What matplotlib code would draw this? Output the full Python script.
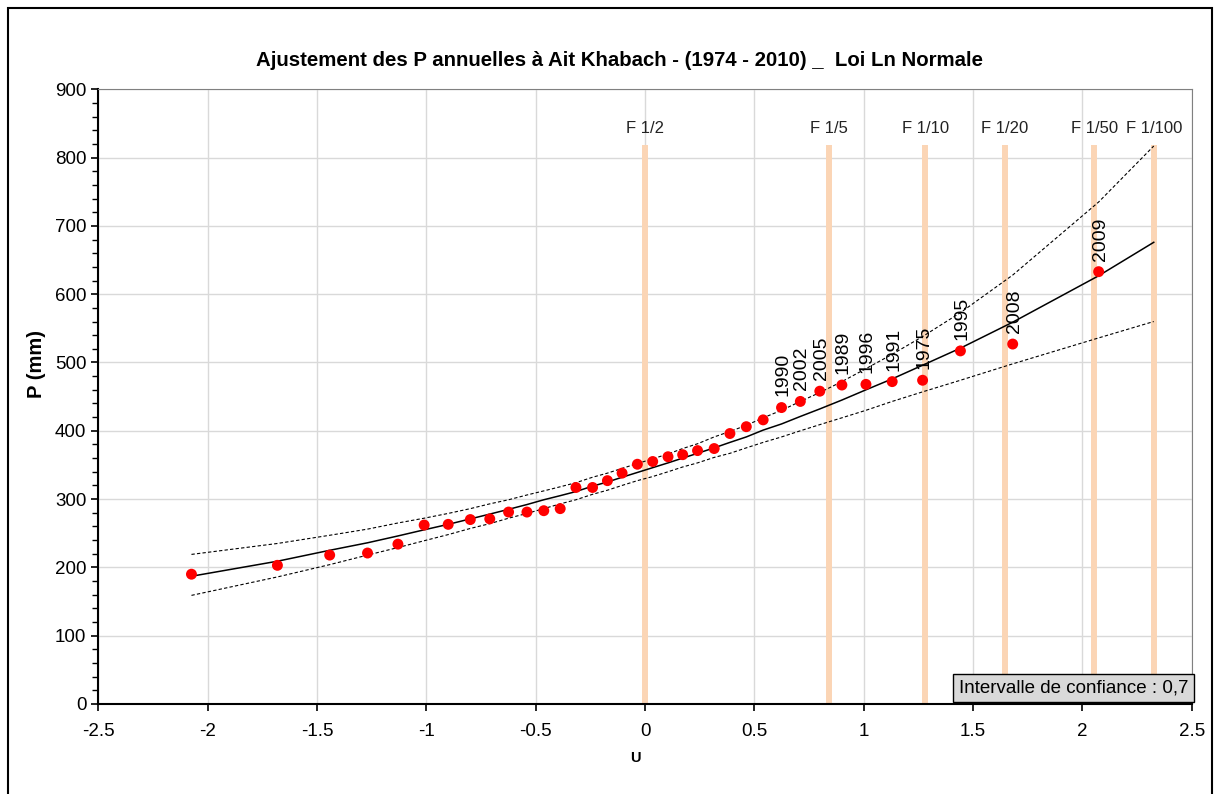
import matplotlib.pyplot as plt
from matplotlib.patches import Rectangle
from matplotlib.ticker import MultipleLocator

plt.rcParams["font.family"] = ["Liberation Sans", "DejaVu Sans"]

# variable réduite de Gauss et pluies annuelles classées
u_obs = [-2.074, -1.681, -1.442, -1.269, -1.130, -1.010, -0.900, -0.799, -0.710,
         -0.624, -0.540, -0.463, -0.388, -0.316, -0.240, -0.172, -0.105, -0.035,
         0.035, 0.105, 0.172, 0.240, 0.316, 0.388, 0.463, 0.540, 0.624,
         0.710, 0.799, 0.900, 1.010, 1.130, 1.269, 1.442, 1.681, 2.074]
p_obs = [190, 203, 218, 221, 234, 262, 263, 270, 271, 281, 281, 283, 286, 317,
         317, 327, 338, 351, 355, 362, 365, 371, 374, 396, 406, 416, 434, 443,
         458, 467, 468, 472, 474, 517, 527, 633]
years = ["1990", "2002", "2005", "1989", "1996", "1991", "1975", "1995", "2008", "2009"]

# droite d'ajustement et intervalle de confiance
u_fit = u_obs + [2.326]
p_fit = [187, 209, 225, 236, 246, 255, 263, 271, 278, 285, 292, 299, 305, 311,
         319, 325, 332, 339, 346, 353, 360, 367, 375, 383, 391, 401, 410, 421,
         432, 445, 460, 476, 496, 521, 559, 627, 676]
p_sup = [219, 235, 247, 256, 265, 272, 279, 286, 293, 299, 306, 312, 318, 324,
         332, 338, 345, 352, 359, 366, 374, 381, 391, 399, 408, 419, 430, 443,
         456, 472, 491, 512, 538, 573, 628, 735, 817]
p_inf = [159, 186, 204, 218, 229, 239, 248, 257, 264, 272, 279, 286, 293, 299,
         307, 313, 320, 327, 333, 340, 347, 353, 361, 367, 375, 383, 391, 400,
         409, 419, 430, 443, 457, 474, 498, 536, 560]

# fréquences de retour
u_freq = [0.0, 0.8416, 1.2816, 1.6449, 2.0537, 2.3263]
freq_labels = ["F 1/2", "F 1/5", "F 1/10", "F 1/20", "F 1/50", "F 1/100"]

fig = plt.figure(figsize=(12.18, 7.94), dpi=100)
ax = fig.add_axes([0.0807, 0.1134, 0.8978, 0.7741])

for u, lab in zip(u_freq, freq_labels):
    ax.plot([u, u], [0, 818], color="#fbd5b5", linewidth=4.3, zorder=2,
            solid_capstyle="butt")
    ax.text(u, 843, lab, ha="center", va="center", fontsize=12, color="#222222")

ax.plot(u_fit, p_fit, color="black", linewidth=1.1, zorder=3)
ax.plot(u_fit, p_sup, color="black", linewidth=0.8, linestyle=(0, (3, 2)), zorder=3)
ax.plot(u_fit, p_inf, color="black", linewidth=0.8, linestyle=(0, (3, 2)), zorder=3)

ax.scatter(u_obs, p_obs, s=62, color="red", edgecolors="none", zorder=4)

for u, p, y in zip(u_obs[-len(years):], p_obs[-len(years):], years):
    ax.annotate(y, (u, p), xytext=(1, 8), textcoords="offset points",
                rotation=90, ha="center", va="bottom", fontsize=14)

ax.set_xlim(-2.5, 2.5)
ax.set_ylim(0, 900)
ax.xaxis.set_major_locator(MultipleLocator(0.5))
ax.yaxis.set_major_locator(MultipleLocator(100))
ax.yaxis.set_minor_locator(MultipleLocator(20))
ax.xaxis.set_major_formatter(plt.FuncFormatter(lambda v, _: f"{v:g}"))
ax.grid(True, which="major", color="#d9d9d9", linewidth=1)
ax.set_axisbelow(True)
ax.tick_params(axis="both", which="major", direction="out", length=5,
               labelsize=13.5, width=1.2)
ax.tick_params(axis="y", which="minor", direction="out", length=4, width=1)
ax.tick_params(axis="x", pad=9)
for side in ["top", "right"]:
    ax.spines[side].set_color("#808080")
for side in ["left", "bottom"]:
    ax.spines[side].set_linewidth(1.5)

ax.set_xlabel("U", fontsize=10.5, fontweight="bold")
ax.xaxis.set_label_coords(0.491, -0.077)
ax.set_ylabel("P (mm)", fontsize=14.5, fontweight="bold")
ax.yaxis.set_label_coords(-0.048, 0.553)

fig.text(619 / 1218, 1 - 60 / 794,
         "Ajustement des P annuelles à Ait Khabach - (1974 - 2010) _  Loi Ln Normale",
         ha="center", va="center", fontsize=14.7, fontweight="bold")

ax.text(0.997, 0.012, "Intervalle de confiance : 0,7", transform=ax.transAxes,
        ha="right", va="bottom", fontsize=13.5, zorder=6,
        bbox=dict(boxstyle="square,pad=0.3", facecolor="#d9d9d9",
                  edgecolor="black", linewidth=1))

fig.patches.append(Rectangle((8 / 1218, -0.05), 1204 / 1218, 1.05 - 8 / 794,
                             transform=fig.transFigure, fill=False,
                             edgecolor="black", linewidth=1.5))

plt.savefig("out.png", dpi=100)
